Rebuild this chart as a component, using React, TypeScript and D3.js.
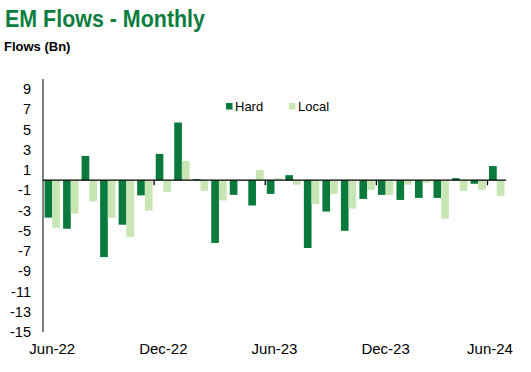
import React from "react";
import * as d3 from "d3";

// monthly EM flows, Jun-22 .. Jun-24 (Bn)
const months = [
  "Jun-22", "Jul-22", "Aug-22", "Sep-22", "Oct-22", "Nov-22",
  "Dec-22", "Jan-23", "Feb-23", "Mar-23", "Apr-23", "May-23",
  "Jun-23", "Jul-23", "Aug-23", "Sep-23", "Oct-23", "Nov-23",
  "Dec-23", "Jan-24", "Feb-24", "Mar-24", "Apr-24", "May-24",
  "Jun-24",
];
const hardFlows = [
  -3.7, -4.8, 2.4, -7.6, -4.4, -1.5, 2.6, 5.7, 0.1, -6.2, -1.45, -2.5,
  -1.35, 0.5, -6.7, -3.1, -5.0, -1.85, -1.45, -1.95, -1.75, -1.75, 0.2,
  -0.35, 1.4,
];
const localFlows = [
  -4.7, -3.3, -2.1, -3.7, -5.6, -3.0, -1.15, 1.9, -1.05, -2.0, -0.1, 1.0,
  0.2, -0.45, -2.35, -1.35, -2.8, -0.95, -1.45, -0.45, -0.25, -3.8, -1.05,
  -0.95, -1.55,
];
const seriesNames = ["Hard", "Local"];
const yTicks = [9, 7, 5, 3, 1, -1, -3, -5, -7, -9, -11, -13, -15];
const xLabels = ["Jun-22", "Dec-22", "Jun-23", "Dec-23", "Jun-24"];

const DARK = "#0a7a3c";
const LIGHT = "#c7e6b3";
const FONT = "'Liberation Sans', Arial, sans-serif";

const App = () => {
  const svgRef = React.useRef<SVGSVGElement | null>(null);
  const width = 531;
  const height = 372;
  const plot = { left: 43, right: 506, top: 79, bottom: 332 };

  React.useEffect(() => {
    document.body.style.margin = "0";
    const svg = d3.select(svgRef.current);
    svg.selectAll("*").remove();
    svg.attr("width", width).attr("height", height).style("background", "#fff");

    // title
    svg
      .append("text")
      .attr("x", 5)
      .attr("y", 27)
      .attr("font-family", "'Liberation Sans Narrow', 'Arial Narrow', sans-serif")
      .attr("font-weight", "bold")
      .attr("font-size", 24)
      .attr("fill", "#0b7d3e")
      .attr("textLength", 200)
      .attr("lengthAdjust", "spacingAndGlyphs")
      .text("EM Flows - Monthly");
    svg
      .append("text")
      .attr("x", 4)
      .attr("y", 51)
      .attr("font-family", FONT)
      .attr("font-weight", "bold")
      .attr("font-size", 13)
      .attr("fill", "#000")
      .text("Flows (Bn)");

    // scales
    const x = d3
      .scaleBand()
      .domain(months)
      .range([plot.left, plot.right])
      .paddingInner(0.17)
      .paddingOuter(0.085);
    const step = x.step();
    const sub = d3
      .scaleBand()
      .domain(seriesNames)
      .range([0, x.bandwidth()]);
    const y = d3.scaleLinear().domain([-15, 10]).range([plot.bottom, plot.top]);

    const rows = months.map((m, i) => ({
      m,
      vals: [hardFlows[i], localFlows[i]],
    }));
    const colors = [DARK, LIGHT];

    // bars
    const g = svg.append("g");
    rows.forEach((r) => {
      r.vals.forEach((v, k) => {
        g.append("rect")
          .attr("x", (x(r.m) as number) + (sub(seriesNames[k]) as number))
          .attr("width", sub.bandwidth())
          .attr("y", y(Math.max(0, v)))
          .attr("height", Math.abs(y(v) - y(0)))
          .attr("fill", colors[k]);
      });
    });

    // y axis
    svg
      .append("line")
      .attr("x1", plot.left)
      .attr("x2", plot.left)
      .attr("y1", plot.top)
      .attr("y2", plot.bottom)
      .attr("stroke", "#000")
      .attr("stroke-width", 1);
    svg
      .selectAll("ytick")
      .data(yTicks)
      .enter()
      .append("text")
      .attr("x", 31)
      .attr("y", (d) => y(d) + 5)
      .attr("text-anchor", "end")
      .attr("font-family", FONT)
      .attr("font-size", 14.5)
      .attr("fill", "#000")
      .text((d) => String(d));

    // zero axis with ticks every 6 months
    svg
      .append("line")
      .attr("x1", plot.left)
      .attr("x2", plot.right)
      .attr("y1", y(0))
      .attr("y2", y(0))
      .attr("stroke", "#000")
      .attr("stroke-width", 1.3);
    [6, 12, 18, 24].forEach((i) => {
      const tx = plot.left + i * step;
      svg
        .append("line")
        .attr("x1", tx)
        .attr("x2", tx)
        .attr("y1", y(0))
        .attr("y2", y(0) + 5)
        .attr("stroke", "#000")
        .attr("stroke-width", 1.3);
    });

    // x labels
    svg
      .selectAll("xlab")
      .data(xLabels)
      .enter()
      .append("text")
      .attr("x", (d) => Math.min((x(d) as number) + x.bandwidth() / 2, 490))
      .attr("y", 354)
      .attr("text-anchor", "middle")
      .attr("font-family", FONT)
      .attr("font-size", 15)
      .attr("fill", "#000")
      .text((d) => d);

    // legend
    const legend = [
      { name: "Hard", color: DARK, x: 226 },
      { name: "Local", color: LIGHT, x: 289 },
    ];
    legend.forEach((l) => {
      svg
        .append("rect")
        .attr("x", l.x)
        .attr("y", 103)
        .attr("width", 6.5)
        .attr("height", 6.5)
        .attr("fill", l.color);
      svg
        .append("text")
        .attr("x", l.x + 9)
        .attr("y", 110.5)
        .attr("font-family", FONT)
        .attr("font-size", 13)
        .attr("fill", "#000")
        .text(l.name);
    });
  }, []);

  return <svg ref={svgRef} style={{ display: "block" }} />;
};

export default App;
